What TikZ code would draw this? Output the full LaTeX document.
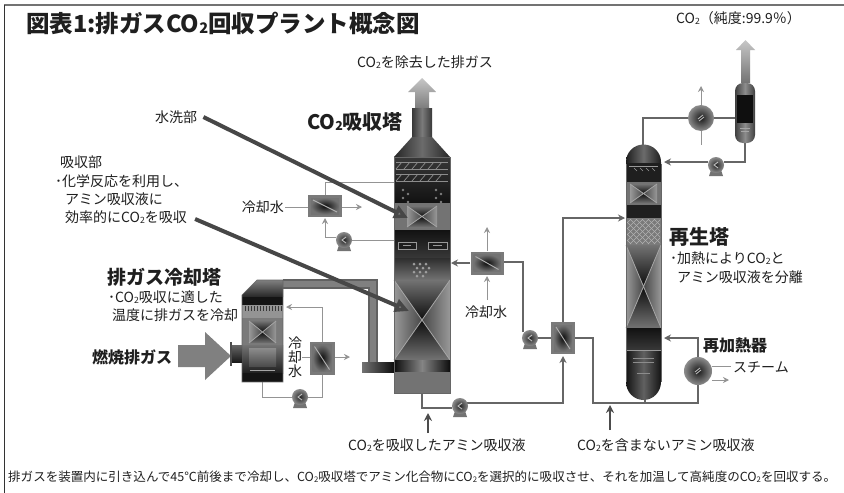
\documentclass[tikz,border=0pt]{standalone}
\usepackage{fontspec}
\setmainfont{Noto Sans CJK JP}
\usepackage{graphicx}
\usetikzlibrary{arrows.meta,calc}

\newcommand\setfs[1]{\fontsize{#1}{#1}\selectfont}
\newcommand\ctwo{CO\raisebox{-0.12ex}{\scalebox{0.62}{2}}}

% packing section with hourglass pattern
\newcommand\xpack[4]{%
  \pgfmathsetmacro\xpcx{(#1+#3)/2}\pgfmathsetmacro\xpcy{(#2+#4)/2}%
  \fill[black!52] (#1,#2) rectangle (#3,#4);
  \shade[top color=black!55,bottom color=black!95] (#1,#2) -- (#3,#2) -- (\xpcx,\xpcy) -- cycle;
  \shade[top color=black!95,bottom color=black!55] (#1,#4) -- (#3,#4) -- (\xpcx,\xpcy) -- cycle;
  \shade[left color=black!40,right color=black!72] (#1,#2) -- (#1,#4) -- (\xpcx,\xpcy) -- cycle;
  \shade[left color=black!72,right color=black!40] (#3,#2) -- (#3,#4) -- (\xpcx,\xpcy) -- cycle;
  \draw[black!35,line width=0.8] (#1,#2) -- (#3,#4) (#3,#2) -- (#1,#4);
}
% square heat exchanger: centre x, centre y, width, height
\newcommand\hexch[4]{%
  \fill[black!52] ({#1-#3/2},{#2-#4/2}) rectangle ({#1+#3/2},{#2+#4/2});
  \shade[inner color=black!95,outer color=black!55] ({#1-#3/2+3},{#2-#4/2+3}) rectangle ({#1+#3/2-3},{#2+#4/2-3});
  \draw[black!30,line width=0.9] ({#1-#3/2+5},{#2-#4/2+5}) -- ({#1+#3/2-5},{#2+#4/2-5});
}
% round exchanger (condenser, reboiler)
\newcommand\rcirc[3]{%
  \shade[inner color=black!90,outer color=black!45] (#1,#2) circle (#3);
  \draw[black!30,line width=0.9] ({#1-3},{#2+1}) -- ({#1+2},{#2-3}) ({#1-2},{#2+3}) -- ({#1+3},{#2-1});
}
% pump on its foot
\newcommand\pumpat[2]{%
  \fill[black!55] ({#1-5},{#2+5}) -- ({#1+5},{#2+5}) -- ({#1+7},{#2+11}) -- ({#1-7},{#2+11}) -- cycle;
  \shade[inner color=black!85,outer color=black!45] (#1,#2) circle (8);
  \draw[black!25,line width=0.9] ({#1+2},{#2-3}) -- ({#1-2},{#2}) -- ({#1+2},{#2+3});
}

\tikzset{
  pipe/.style={draw=black!60,line width=1.6pt},
  cw/.style={draw=black!42,line width=1pt},
  tipp/.style={-{Stealth[length=7pt,width=7pt]}},
  tipc/.style={-{Stealth[length=6pt,width=6pt]}},
  lead/.style={draw=black!72,line width=4pt,-{Triangle[length=14pt,width=13pt,fill=black!52]}},
  feed/.style={draw=black!70,line width=1.8pt,-{Stealth[length=8pt,width=8pt]}},
  lbl/.style={inner sep=0pt,anchor=west,text=black!88,font=\setfs{14}},
  hd/.style={lbl,font=\bfseries\setfs{#1}},
}

\begin{document}
\begin{tikzpicture}[x=1pt,y=-1pt,line join=miter]
\useasboundingbox (0,0) rectangle (844,493);
\fill[white] (0,0) rectangle (844,493);

% frame
\draw[black!55,line width=2pt] (4,5) -- (844,5);
\draw[black!80,line width=0.8pt] (4,5) -- (4,493);

% ---------- cooling tower water loop ----------
\draw[cw,tipc] (322,342) -- (322,307) -- (286,307);
\draw[cw] (302,357) -- (310,357);
\draw[cw,tipc] (335,357) -- (350,357);
\draw[cw] (322,375) -- (322,397) -- (308,397);
\draw[cw] (292,397) -- (262,397) -- (262,382);
\hexch{322}{358}{25}{33}
\pumpat{300}{397}

% ---------- absorber water-wash loop ----------
\draw[cw] (325,195) -- (325,182) -- (394,182);
\draw[cw] (394,240) -- (352,240);
\draw[cw,tipc] (336,237) -- (325,237) -- (325,218);
\draw[cw] (285,207) -- (308,207);
\draw[cw,tipc] (342,207) -- (362,207);
\hexch{325}{206}{34}{22}
\pumpat{344}{240}

% ---------- rich / lean amine circuit ----------
\draw[pipe] (422,393) -- (422,408) -- (452,408);
\draw[pipe,tipp] (467,403) -- (563,403) -- (563,356);
\pumpat{460}{406}
\draw[pipe] (551,338) -- (538,338);
\draw[pipe] (523,332) -- (523,262) -- (504,262);
\draw[pipe,tipp] (470,263) -- (451,263);
\pumpat{530}{338}
\hexch{487}{263}{33}{23}
\draw[cw,tipc] (487,251) -- (487,227);
\draw[cw,tipc] (487,300) -- (487,276);
\draw[pipe,tipp] (563,322) -- (563,218) -- (625,218);
\draw[pipe] (575,338) -- (593,338) -- (593,403) -- (698,403) -- (698,385);
\draw[pipe] (645,398) -- (645,403);
\draw[pipe,tipp] (698,357) -- (698,338) -- (664,338);
\hexch{563}{338}{24}{32}
\rcirc{698}{371}{14}
\draw[cw] (712,366) -- (731,366);
\draw[cw,tipc] (712,380) -- (729,380);

% ---------- regenerator overhead ----------
\draw[pipe] (643,146) -- (643,118) -- (688,118);
\draw[pipe] (714,118) -- (735,118);
\draw[cw,tipc] (701,105) -- (701,86);
\draw[cw] (701,131) -- (701,145);
\rcirc{701}{118}{13}
\draw[pipe] (745,143) -- (745,162) -- (724,162);
\draw[pipe,tipp] (708,162) -- (664,162);
\pumpat{716}{165}

% feed arrows
\draw[feed] (428,433) -- (428,413);
\draw[feed] (610,430) -- (610,405);

% ---------- flue gas duct ----------
\draw[black!62,line width=10pt] (283,284) -- (373,284) -- (373,367) -- (394,367);
\draw[black!50,line width=6pt] (283,284) -- (373,284) -- (373,367) -- (394,367);
\shade[left color=black!55,right color=black!95] (362,362) rectangle (394,372);

% ---------- flue gas inlet arrow ----------
\fill[black!50] (178,345) -- (205,345) -- (205,332) -- (231,356) -- (205,380) -- (205,367) -- (178,367) -- cycle;

% ---------- cooling tower ----------
\shade[top color=black!50,bottom color=black!85] (242,295) -- (257,280) -- (283,280) -- (283,297) -- (242,297) -- cycle;
\fill[black!92] (242,297) rectangle (283,305);
\fill[black!42] (242,305) rectangle (283,318);
\foreach \i in {245,248,...,281} \draw[black!78,line width=0.8] (\i,306) -- (\i,311);
\fill[black!52] (242,318) rectangle (283,345);
\xpack{249}{321}{276}{343}
\shade[top color=black!55,bottom color=black!88] (242,345) rectangle (283,373);
\shade[top color=black!45,bottom color=black!70] (249,348) rectangle (276,366);
\draw[black!35,line width=0.8] (250,370) -- (275,370);
\fill[black!92] (242,373) rectangle (283,382);
\draw[black!60,line width=0.6] (242,295) -- (257,280) -- (283,280) -- (283,382) -- (242,382) -- cycle;
\shade[top color=black!60,bottom color=black!90] (232,345) rectangle (242,362);
\draw[black!70,line width=1.6pt] (231,342) -- (231,366);

% ---------- CO2 absorber ----------
\shade[top color=black!22,bottom color=black!55] (415,112) -- (415,92) -- (408,92) -- (422,78) -- (436,92) -- (429,92) -- (429,112) -- cycle;
\shade[left color=black!78,right color=black!78,middle color=black!52] (412,108) rectangle (432,138);
\shade[left color=black!85,right color=black!85,middle color=black!58] (412,137) -- (432,137) -- (450,157) -- (394,157) -- cycle;
\shade[top color=black!78,bottom color=black!93] (394,157) rectangle (450,203);
\foreach \yy in {162,174}{
  \draw[black!45,line width=0.7] (396,\yy) -- (448,\yy) (396,\yy+7) -- (448,\yy+7);
  \foreach \i in {396,404,...,442} \draw[black!45,line width=0.7] (\i,\yy+7) -- (\i+6,\yy);
}
\foreach \px/\py in {403/190,408/194,403/198,408/202,436/190,441/194,436/198,441/202}
  \fill[black!50] (\px,\py) circle (1.4);
\fill[black!55] (394,203) rectangle (450,230);
\xpack{407}{206}{437}{227}
\shade[top color=black!93,bottom color=black!78] (394,230) rectangle (450,258);
\draw[black!40,fill=black!88,line width=0.7] (398,242) rectangle (416,249);
\draw[black!40,fill=black!88,line width=0.7] (428,242) rectangle (447,249);
\draw[black!40,line width=0.6] (403,245.5) -- (411,245.5) (433,245.5) -- (442,245.5);
\shade[top color=black!82,bottom color=black!55] (394,258) rectangle (450,280);
\foreach \px/\py in {414/264,420/264,426/264,417/268,423/268,429/268,414/272,420/272,426/272,417/276,423/276}
  \fill[black!38] (\px,\py) circle (1.5);
\xpack{394}{280}{450}{360}
\shade[left color=black!95,right color=black!95,middle color=black!48] (394,360) rectangle (450,372);
\fill[black!55] (394,372) rectangle (450,393);
\draw[black!60,line width=0.6] (394,157) rectangle (450,393);

% ---------- regenerator ----------
\shade[left color=black!88,right color=black!88,middle color=black!58] (626,164) -- (626,162) arc[start angle=180,end angle=360,radius=17.5] -- (661,164) -- cycle;
\fill[black!88] (626,163) rectangle (661,182);
\draw[black!40,line width=0.6] (629,166) -- (658,166);
\foreach \i in {634,640,646,652} \draw[black!40,line width=0.6] (\i,168) -- (\i+3,171);
\fill[black!55] (626,182) rectangle (661,205);
\xpack{630}{184}{657}{203}
\fill[black!88] (626,205) rectangle (661,218);
\fill[black!52] (626,218) rectangle (661,245);
\begin{scope}
  \clip (627,219) rectangle (660,244);
  \foreach \i in {600,606,...,690} {
    \draw[black!30,line width=0.5] (\i,219) -- (\i+25,244);
    \draw[black!30,line width=0.5] (\i,244) -- (\i+25,219);
  }
\end{scope}
\xpack{626}{245}{661}{328}
\shade[top color=black!93,bottom color=black!78] (626,328) rectangle (661,350);
\shade[left color=black!92,right color=black!92,middle color=black!62] (626,350) -- (626,382) arc[start angle=180,end angle=0,x radius=17.5,y radius=18] -- (661,350) -- cycle;
\draw[black!40,line width=0.7] (626,350) -- (661,350);
\draw[black!45,line width=0.6] (633,358) -- (654,358) (633,362) -- (654,362) (637,373) -- (650,373);
\draw[black!60,line width=0.6] (626,164) -- (626,382) (661,164) -- (661,382);

% ---------- reflux drum ----------
\shade[top color=black!22,bottom color=black!55] (741,83) -- (741,50) -- (736,50) -- (745.5,40) -- (755,50) -- (750,50) -- (750,83) -- cycle;
\shade[left color=black!75,right color=black!75,middle color=black!45,rounded corners=8pt] (735,83) rectangle (755,143);
\fill[black!94] (737,95) rectangle (753,123);
\draw[black!35,line width=0.6] (740,128) -- (750,128) (741,131) -- (749,131);

% ---------- leader lines ----------
\node[lbl] (wash) at (155,117) {水洗部};
\node[lbl] (a1) at (60,162) {吸収部};
\node[lbl] (a2) at (55,181) {･化学反応を利用し、};
\node[lbl] (a3) at (65,199) {アミン吸収液に};
\node[lbl] (a4) at (65,217) {効率的に\ctwo{}を吸収};
\draw[lead] ($(wash.east)+(6,0)$) -- (408,218);
\draw[lead] ($(a4.east)+(8,2)$) -- (409,311);

% ---------- labels ----------
\node[hd=23.5] (title) at (26,23) {図表1:排ガス\ctwo{}回収プラント概念図};
\node[lbl] (outgas) at (357,62) {\ctwo{}を除去した排ガス};
\node[lbl] (pure) at (676,18) {\ctwo{}（純度:99.9％）};
\node[hd=20] (abslbl) at (307,122) {\ctwo{}吸収塔};
\node[hd=19] (cool) at (107,277) {排ガス冷却塔};
\node[lbl] (c1) at (108,297) {･\ctwo{}吸収に適した};
\node[lbl] (c2) at (112,315) {温度に排ガスを冷却};
\node[hd=16] (flue) at (92,357) {燃焼排ガス};
\node[lbl,anchor=east] (cw1) at (284,207) {冷却水};
\node[lbl,anchor=center] (cw2) at (486,312) {冷却水};
\node[lbl,anchor=center] (cw3a) at (295,343) {冷};
\node[lbl,anchor=center] (cw3b) at (295,357) {却};
\node[lbl,anchor=center] (cw3c) at (295,371) {水};
\node[hd=20] (regen) at (669,237) {再生塔};
\node[lbl] (r1) at (670,258) {･加熱により\ctwo{}と};
\node[lbl] (r2) at (677,277) {アミン吸収液を分離};
\node[hd=16] (reb) at (703,345) {再加熱器};
\node[lbl] (steam) at (733,367) {スチーム};
\node[lbl] (rich) at (348,445) {\ctwo{}を吸収したアミン吸収液};
\node[lbl] (lean) at (577,445) {\ctwo{}を含まないアミン吸収液};
\node[lbl,font=\setfs{12.5}] (caption) at (8,477) {\resizebox{828pt}{\height}{排ガスを装置内に引き込んで45℃前後まで冷却し、\ctwo{}吸収塔でアミン化合物に\ctwo{}を選択的に吸収させ、それを加温して高純度の\ctwo{}を回収する。}};
\end{tikzpicture}
\end{document}
